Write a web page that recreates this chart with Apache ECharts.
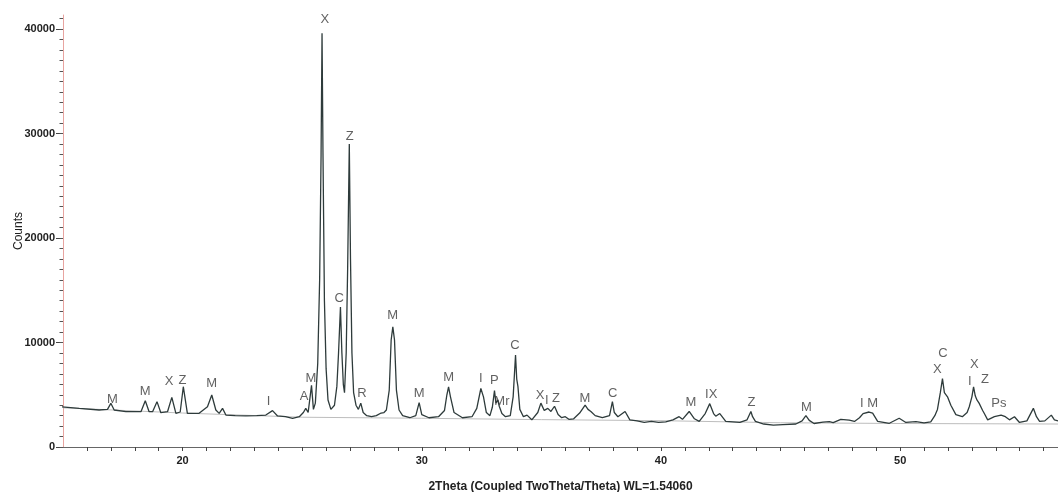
<!DOCTYPE html>
<html>
<head>
<meta charset="utf-8">
<script src="https://cdn.jsdelivr.net/npm/echarts@6/dist/echarts.min.js"></script>
<style>
  html, body { margin: 0; padding: 0; background: #fff; }
  #chart { width: 1058px; height: 492px; }
</style>
</head>
<body>
<div id="chart"></div>
<script>
// measured pattern (2theta, counts)
const twoTheta = [
  14.9, 15.68, 16.51, 16.86, 17.0, 17.14, 17.63, 18.26, 18.44, 18.6, 18.75, 18.93, 19.09, 19.37, 19.55, 19.72,
  19.9, 20.03, 20.2, 20.69, 21.04, 21.22, 21.39, 21.53, 21.67, 21.81, 22.2, 22.65, 23.1, 23.48, 23.76, 23.97,
  24.3, 24.6, 24.88, 25.05, 25.15, 25.25, 25.39, 25.47, 25.55, 25.65, 25.73, 25.79, 25.83, 25.87, 25.93, 26.0,
  26.08, 26.2, 26.35, 26.45, 26.52, 26.6, 26.66, 26.72, 26.77, 26.84, 26.9, 26.97, 27.02, 27.08, 27.15, 27.25,
  27.35, 27.45, 27.55, 27.7, 27.9, 28.1, 28.3, 28.42, 28.52, 28.64, 28.72, 28.79, 28.86, 28.94, 29.05, 29.2,
  29.5, 29.75, 29.89, 30.0, 30.3, 30.7, 30.95, 31.05, 31.12, 31.2, 31.35, 31.7, 32.1, 32.3, 32.47, 32.58,
  32.7, 32.85, 32.95, 33.04, 33.1, 33.18, 33.24, 33.35, 33.5, 33.7, 33.82, 33.92, 33.97, 34.02, 34.1, 34.25,
  34.4, 34.6, 34.85, 34.98, 35.12, 35.27, 35.4, 35.55, 35.7, 35.85, 36.0, 36.15, 36.35, 36.6, 36.83, 36.95,
  37.07, 37.25, 37.55, 37.85, 37.97, 38.05, 38.2, 38.5, 38.7, 39.0, 39.3, 39.6, 39.9, 40.2, 40.5, 40.76,
  40.9, 41.18, 41.4, 41.6, 41.85, 42.04, 42.2, 42.29, 42.46, 42.71, 43.0, 43.3, 43.6, 43.76, 43.83, 43.95,
  44.3, 44.7, 45.1, 45.64, 45.9, 46.06, 46.2, 46.4, 46.77, 47.04, 47.2, 47.52, 47.87, 48.09, 48.3, 48.45,
  48.7, 48.85, 49.06, 49.55, 49.96, 50.24, 50.66, 51.0, 51.28, 51.45, 51.56, 51.68, 51.77, 51.85, 51.98, 52.12,
  52.33, 52.6, 52.8, 52.89, 53.0, 53.07, 53.14, 53.21, 53.3, 53.38, 53.45, 53.52, 53.66, 53.94, 54.22, 54.4,
  54.57, 54.78, 54.99, 55.3, 55.57, 55.7, 55.83, 56.05, 56.32, 56.45, 56.6
];
const counts = [
  3860, 3700, 3540, 3600, 4180, 3540, 3380, 3380, 4430, 3380, 3400, 4340, 3280, 3380, 4750, 3220,
  3350, 5770, 3220, 3220, 3860, 4980, 3540, 3220, 3700, 3060, 3000, 2970, 3000, 3060, 3480, 2970,
  2900, 2750, 2900, 3300, 3700, 3300, 5900, 3600, 4200, 8000, 16000, 28000, 39600, 28000, 14000, 7500,
  4500, 3600, 4000, 5800, 9000, 13400, 9000, 6000, 5200, 9000, 17000, 29000, 18000, 9000, 5200, 4000,
  3600, 4200, 3300, 3000, 2900, 3000, 3250, 3300, 3540, 5450, 10240, 11500, 10240, 5450, 3540, 3000,
  2800, 3000, 4250, 3100, 2800, 2900, 3500, 5000, 5750, 4800, 3300, 2800, 2900, 3700, 5600, 4800,
  3300, 3000, 3800, 5400, 4200, 4500, 3900, 3200, 2900, 3000, 4800, 8800, 6500, 5800, 3600, 2900,
  3050, 2600, 3300, 4200, 3500, 3700, 3400, 3900, 3100, 2800, 2900, 2650, 2700, 3250, 4000, 3600,
  3400, 3000, 2800, 3000, 4350, 3300, 2900, 3400, 2600, 2500, 2350, 2450, 2350, 2400, 2600, 2900,
  2650, 3400, 2700, 2450, 3200, 4150, 3200, 2950, 3200, 2450, 2400, 2350, 2600, 3400, 2900, 2450,
  2200, 2100, 2150, 2200, 2500, 3000, 2550, 2250, 2380, 2430, 2330, 2650, 2580, 2450, 2800, 3200,
  3350, 3250, 2450, 2270, 2750, 2350, 2420, 2300, 2400, 3000, 3600, 5200, 6550, 5200, 4800, 4000,
  3100, 2900, 3300, 3850, 4800, 5750, 4900, 4500, 4200, 4050, 3500, 3200, 2600, 2900, 3050, 2900,
  2600, 2900, 2350, 2500, 3700, 2900, 2450, 2500, 3050, 2600, 2500
];

// background curve
const bgTheta = [15, 20, 25, 30, 35, 40, 45, 50, 56.6];
const bgCounts = [3750, 3250, 2850, 2750, 2620, 2520, 2320, 2250, 2200];

// phase labels
const peakNames = ['M', 'M', 'X', 'Z', 'M', 'I', 'A', 'M', 'X', 'C', 'Z', 'R', 'M', 'M', 'M', 'I', 'P', 'Mr',
  'C', 'X', 'I', 'Z', 'M', 'C', 'M', 'IX', 'Z', 'M', 'I M', 'X', 'C', 'X', 'I', 'Z', 'Ps'];
const peakTheta = [17.07, 18.44, 19.44, 20.0, 21.22, 23.59, 25.08, 25.36, 25.95, 26.55, 26.99, 27.5, 28.78,
  29.89, 31.12, 32.47, 33.03, 33.35, 33.9, 34.95, 35.23, 35.61, 36.82, 37.98, 41.25, 42.1, 43.78, 46.08, 48.7,
  51.55, 51.79, 53.1, 52.91, 53.55, 54.13];
const peakCounts = [4570, 5300, 6260, 6420, 6100, 4340, 4820, 6580, 40900, 14250, 29730, 5140, 12550,
  5140, 6640, 6580, 6420, 4340, 9770, 4980, 4500, 4660, 4660, 5140, 4240, 5070, 4280, 3800, 4180,
  7440, 8970, 7860, 6260, 6490, 4190];

const xTicks = [];
for (let t = 16; t <= 56; t++) xTicks.push(t);
const yMinor = [];
for (let v = 0; v <= 41000; v += 1000) yMinor.push(v);
const yMajor = [0, 10000, 20000, 30000, 40000];

const chart = echarts.init(document.getElementById('chart'));
chart.setOption({
  animation: false,
  grid: { left: 63, right: 0, top: 15, bottom: 45, outerBoundsMode: 'none', containLabel: false },
  xAxis: {
    type: 'value',
    min: 15,
    max: 56.6,
    name: '2Theta (Coupled TwoTheta/Theta) WL=1.54060',
    nameLocation: 'middle',
    nameGap: 34,
    nameMoveOverlap: false,
    nameTextStyle: { fontFamily: 'Liberation Sans', fontWeight: 'bold', fontSize: 12, color: '#222' },
    axisLine: { lineStyle: { color: '#666', width: 1 } },
    axisTick: { customValues: xTicks, length: 4, lineStyle: { color: '#444' } },
    axisLabel: {
      customValues: [20, 30, 40, 50],
      margin: 8,
      fontFamily: 'Liberation Sans', fontWeight: 'bold', fontSize: 11, color: '#222'
    },
    splitLine: { show: false }
  },
  yAxis: [
    {
      type: 'value',
      min: 0,
      max: 41350,
      position: 'left',
      name: 'Counts',
      nameLocation: 'middle',
      nameGap: 38,
      nameMoveOverlap: false,
      nameTextStyle: { fontFamily: 'Liberation Sans', fontSize: 12, color: '#222' },
      axisLine: { show: true, lineStyle: { color: '#e8a4a0', width: 1 } },
      axisTick: { customValues: yMajor, length: 7, lineStyle: { color: '#444' } },
      axisLabel: {
        customValues: yMajor,
        margin: 8,
        formatter: (v) => String(v),
        fontFamily: 'Liberation Sans', fontWeight: 'bold', fontSize: 11, color: '#222'
      },
      splitLine: { show: false }
    },
    {
      type: 'value',
      min: 0,
      max: 41350,
      position: 'left',
      offset: 0,
      axisLine: { show: false },
      axisTick: { customValues: yMinor, length: 3.5, lineStyle: { color: '#555' } },
      axisLabel: { show: false },
      splitLine: { show: false }
    }
  ],
  series: [
    {
      name: 'background',
      type: 'line',
      symbol: 'none',
      silent: true,
      lineStyle: { color: '#bdbdbd', width: 1 },
      data: bgTheta.map((t, i) => [t, bgCounts[i]]),
      z: 1
    },
    {
      name: 'pattern',
      type: 'line',
      symbol: 'none',
      lineStyle: { color: '#2e3b3b', width: 1.3 },
      data: twoTheta.map((t, i) => [t, counts[i]]),
      z: 2
    },
    {
      name: 'phases',
      type: 'scatter',
      symbolSize: 0,
      silent: true,
      data: peakNames.map((n, i) => ({ name: n, value: [peakTheta[i], peakCounts[i]] })),
      label: {
        show: true,
        position: 'inside',
        formatter: (p) => p.name,
        fontFamily: 'Liberation Sans',
        fontSize: 13,
        color: '#3a3a3a'
      },
      z: 3
    }
  ]
});
</script>
</body>
</html>
